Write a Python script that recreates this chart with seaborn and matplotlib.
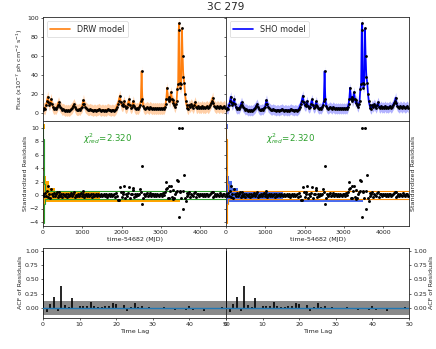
import numpy as np
import pandas as pd
import matplotlib
matplotlib.use("Agg")
import matplotlib.pyplot as plt
import seaborn as sns

TITLE = "3C 279"

# light curve (time - 54682 in days, flux in 1e-7 ph cm-2 s-1)
time = [0, 25, 50, 75, 100, 120, 140, 160, 180, 205, 225, 250, 275, 300, 325, 350, 375, 395, 415, 440,
        465, 490, 515, 540, 565, 590, 615, 640, 665, 690, 715, 740, 765, 790, 815, 840, 865, 890, 915, 940,
        965, 990, 1010, 1030, 1050, 1075, 1100, 1125, 1150, 1175, 1200, 1225, 1250, 1275, 1300, 1325, 1350, 1375, 1400, 1425,
        1450, 1475, 1500, 1525, 1550, 1575, 1600, 1625, 1650, 1675, 1700, 1725, 1750, 1775, 1800, 1825, 1850, 1875, 1900, 1925,
        1955, 1975, 2000, 2025, 2045, 2065, 2085, 2110, 2135, 2160, 2185, 2210, 2235, 2260, 2280, 2300, 2320, 2345, 2370, 2395,
        2420, 2445, 2470, 2490, 2510, 2530, 2550, 2575, 2600, 2625, 2650, 2675, 2700, 2725, 2750, 2775, 2800, 2825, 2850, 2875,
        2900, 2925, 2950, 2975, 3000, 3025, 3050, 3075, 3100, 3120, 3140, 3160, 3180, 3200, 3220, 3240, 3260, 3280, 3300, 3320,
        3340, 3360, 3380, 3400, 3420, 3440, 3455, 3470, 3485, 3500, 3520, 3540, 3555, 3575, 3595, 3615, 3635, 3655, 3675, 3700,
        3725, 3750, 3775, 3800, 3825, 3850, 3875, 3900, 3925, 3950, 3975, 4000, 4025, 4050, 4075, 4100, 4125, 4150, 4175, 4200,
        4225, 4250, 4275, 4300, 4320, 4340, 4365, 4390, 4415, 4440, 4465, 4490, 4515, 4540, 4565, 4590, 4615, 4640]
flux = [3, 5, 4, 8, 12, 17, 11, 8, 10, 14.5, 9, 6, 4, 5, 4, 6, 8, 11, 8, 6,
        5, 3, 4, 3, 2, 3, 2, 3, 2, 3, 4, 5, 7, 9, 6, 4, 3, 3, 4, 3,
        5, 6, 9, 13.5, 9, 6, 5, 4, 3, 3, 4, 3, 3, 2, 3, 3, 2, 3, 3, 4,
        3, 2, 3, 3, 2, 3, 2, 3, 4, 3, 3, 2, 3, 3, 2, 3, 4, 6, 9, 12,
        18, 11, 8, 7, 9, 12, 7, 5, 6, 9, 14, 8, 5, 6, 8, 12, 7, 5, 4, 5,
        4, 6, 8, 12, 44, 15, 7, 5, 4, 5, 6, 5, 4, 6, 5, 4, 5, 4, 5, 4,
        5, 4, 5, 4, 5, 4, 5, 4, 6, 9, 15, 26.5, 15, 17, 12, 14, 22, 15, 10, 13.5,
        8, 6, 9, 12, 25, 30, 88, 95, 32, 26, 30, 89.5, 60, 38, 32, 20, 12, 8, 5, 4,
        8, 6, 9, 7, 5, 8, 11, 6, 5, 7, 5, 6, 5, 7, 5, 6, 5, 6, 7, 5,
        6, 8, 10, 12, 16, 10, 7, 6, 5, 7, 6, 5, 7, 6, 5, 6, 7, 5]
# standardized residuals (same for both models)
resid = [0.1, -0.2, 0.3, -0.1, 0.6, 1.3, -0.3, 0.2, -0.4, 0.9, 0.1, -0.2, 0.3, -0.1, 0.2, 0.4, -0.3, 0.5, 0.0, -0.2,
         0.1, -0.3, 0.2, 0.0, -0.2, 0.1, -0.3, 0.2, -0.1, 0.0, 0.3, -0.2, 0.1, 0.4, -0.3, 0.0, -0.1, 0.2, -0.2, 0.1,
         0.3, -0.1, 0.2, 0.6, -0.3, 0.0, 0.1, -0.2, 0.2, -0.1, 0.0, 0.1, -0.3, 0.2, -0.1, 0.0, 0.1, -0.2, 0.2, 0.0,
         -0.1, 0.1, -0.2, 0.0, 0.2, -0.1, 0.1, -0.3, 0.0, 0.2, -0.1, 0.1, -0.2, 0.0, 0.1, -0.3, 0.3, -0.2, -0.7, -0.8,
         1.2, 0.4, -0.3, 0.1, 0.5, 1.3, -0.4, 0.2, -0.1, 0.3, 1.2, -0.5, 0.1, 0.2, 0.8, 1.0, -0.3, 0.2, -0.1, 0.1,
         0.0, 0.2, 0.9, 0.4, 4.3, -1.4, -0.4, 0.1, -0.2, 0.2, 0.3, -0.1, 0.0, 0.3, -0.2, 0.1, 0.2, -0.1, 0.1, -0.2,
         0.2, 0.0, -0.1, 0.2, 0.1, -0.2, 0.3, 0.0, 0.4, 0.9, 2.0, 1.0, -0.5, 1.4, -0.4, 0.6, 1.4, -0.3, -0.6, 0.7,
         -0.5, 0.1, 0.4, 0.6, 2.3, 2.1, 10.0, -3.2, 0.6, 0.5, -0.4, 10.0, -2.1, 0.6, 3.0, -0.5, -0.9, 0.3, -0.2, 0.1,
         0.4, -0.3, 0.2, 0.0, -0.2, 0.3, 0.4, -0.3, 0.1, 0.2, -0.2, 0.1, 0.0, 0.2, -0.1, 0.1, -0.2, 0.1, 0.2, -0.1,
         0.0, 0.2, 0.3, 0.4, 0.5, -0.3, -0.1, 0.1, -0.2, 0.2, 0.0, -0.2, 0.3, 0.0, -0.1, 0.1, 0.2, -0.1]
model_sigma_drw = 6.0
model_sigma_sho = 5.5
chi2_red = 2.320

# histogram of residuals (bin edges, lengths in days along the time axis)
hist_edges = [-4.2, -3.5, -2.8, -2.1, -1.4, -1.1, -0.6, 0.6, 1.1, 1.6, 2.1, 2.8, 3.5, 4.2, 4.9, 5.6, 6.3, 7.0, 7.7, 8.4, 9.1, 9.8, 10.5]
hist_fill = [30, 40, 30, 30, 60, 3480, 1450, 300, 150, 150, 80, 0, 30, 0, 0, 0, 0, 0, 0, 0, 0, 60]
hist_outline = [20, 30, 30, 30, 40, 40, 6000, 40, 40, 30, 30, 30, 30, 30, 30, 30, 30, 30, 30, 0, 0, 0]

# autocorrelation of residuals
lags = list(range(0, 51))
acf = [1.0, -0.07, 0.07, 0.20, -0.06, 0.39, 0.06, 0.01, 0.17, 0.00, 0.03, 0.04, 0.03, 0.10, 0.04, 0.01,
       0.02, 0.03, 0.03, 0.09, 0.07, 0.00, 0.06, -0.06, 0.02, 0.08, 0.01, 0.04, 0.00, 0.01, 0.00, -0.01,
       -0.01, 0.01, 0.00, -0.01, -0.03, -0.01, -0.02, -0.03, 0.03, -0.04, -0.01, 0.00, -0.05, 0.00, 0.00,
       -0.01, 0.00, 0.01, 0.00]
acf_conf = 0.115

sns.set_theme(style="ticks")
plt.rcParams["font.family"] = ["DejaVu Sans"]
plt.rcParams.update({
    "axes.linewidth": 0.6, "xtick.major.width": 0.5, "ytick.major.width": 0.5,
    "xtick.major.size": 1.5, "ytick.major.size": 1.5,
    "xtick.labelsize": 4.5, "ytick.labelsize": 4.5, "axes.labelsize": 4.6,
    "xtick.major.pad": 1.5, "ytick.major.pad": 1.5, "axes.labelpad": 1.5,
})

df = pd.DataFrame({"time": time, "flux": flux, "resid": resid})

fig = plt.figure(figsize=(4.36, 3.49), dpi=100)
W = 183 / 436
x_l, x_r = 43 / 436, 226 / 436
ax_fl = fig.add_axes([x_l, 1 - 121 / 349, W, 103.7 / 349])
ax_fr = fig.add_axes([x_r, 1 - 121 / 349, W, 103.7 / 349])
ax_rl = fig.add_axes([x_l, 1 - 226 / 349, W, 105 / 349])
ax_rr = fig.add_axes([x_r, 1 - 226 / 349, W, 105 / 349])
ax_al = fig.add_axes([x_l, 1 - 317.7 / 349, W, 70 / 349])
ax_ar = fig.add_axes([x_r, 1 - 317.7 / 349, W, 70 / 349])

XMAX = 4660
models = [
    (ax_fl, ax_rl, "DRW model", "#ff7f0e", "#ffc08a", model_sigma_drw, "#ffa500", "#2ca02c"),
    (ax_fr, ax_rr, "SHO model", "#0000ff", "#9a9aff", model_sigma_sho, "#4a6cf0", "#ff8c00"),
]
for axf, axr, lab, c_line, c_band, sig, c_fill, c_out in models:
    t = np.asarray(time, float)
    f = np.asarray(flux, float)
    axf.fill_between(t, f - sig, f + sig, color=c_band, alpha=0.75, lw=0)
    sns.lineplot(data=df, x="time", y="flux", ax=axf, color=c_line, lw=1.2, label=lab,
                 estimator=None, sort=True)
    sns.scatterplot(data=df, x="time", y="flux", ax=axf, color="black", s=4, linewidth=0,
                    zorder=5, legend=False)
    axf.set_xlim(0, XMAX)
    axf.set_ylim(-8.8, 101.1)
    axf.set_xlabel("")
    axf.set_ylabel("")
    axf.tick_params(labelbottom=False)
    leg = axf.legend(loc="upper left", fontsize=5.9, frameon=True, handlelength=2.4,
                     borderpad=0.45, borderaxespad=0.45)
    leg.get_frame().set_linewidth(0.5)

    # residual histograms (horizontal)
    e = np.asarray(hist_edges)
    axr.barh(e[:-1], hist_fill, height=np.diff(e), align="edge", color=c_fill, lw=0, zorder=1)
    axr.stairs(hist_outline, e, orientation="horizontal", color=c_out, lw=0.8, zorder=2)
    sns.scatterplot(data=df, x="time", y="resid", ax=axr, color="black", s=4.5, linewidth=0,
                    zorder=5, legend=False)
    axr.set_xlim(0, XMAX)
    axr.set_ylim(-4.6, 11.0)
    axr.set_xlabel("time-54682 (MJD)")
    axr.set_ylabel("")
    axr.set_xticks([0, 1000, 2000, 3000, 4000])
    axr.text(0.22, 0.83, r"$\chi^2_{red}$=%.3f" % chi2_red, transform=axr.transAxes,
             color="#2ca02c", fontsize=6.2, ha="left", va="center")

for ax in (ax_al, ax_ar):
    ax.fill_between([0, 50], [-acf_conf, -acf_conf], [acf_conf, acf_conf], color="#8a8a8a", lw=0)
    ax.vlines(lags, 0, acf, color="black", lw=1.2, zorder=3)
    ax.axhline(0, color="#1f77b4", lw=1.0, zorder=4)
    ax.set_xlim(0, 50)
    ax.set_xticks([0, 10, 20, 30, 40, 50])
    ax.set_yticks([0, 0.25, 0.5, 0.75, 1.0])
    ax.set_xlabel("Time Lag")

ax_fl.set_ylabel(r"Flux (x10$^{-7}$ ph cm$^{-2}$ s$^{-1}$)")
ax_fr.tick_params(labelleft=False)
ax_rl.set_ylabel("Standardized Residuals")
ax_rr.tick_params(labelleft=False)
ax_rr.yaxis.set_label_position("right")
ax_rr.set_ylabel("Standardized Residuals")
ax_al.set_ylabel("ACF of Residuals")
ax_ar.yaxis.tick_right()
ax_ar.yaxis.set_label_position("right")
ax_ar.set_ylabel("ACF of Residuals")

for ax in fig.axes:
    for s in ax.spines.values():
        s.set_visible(True)
        s.set_linewidth(0.6)

fig.text(0.5183, 1 - 7.5 / 349, TITLE, ha="center", va="center", fontsize=7.6)
fig.savefig("out.png", dpi=100)
